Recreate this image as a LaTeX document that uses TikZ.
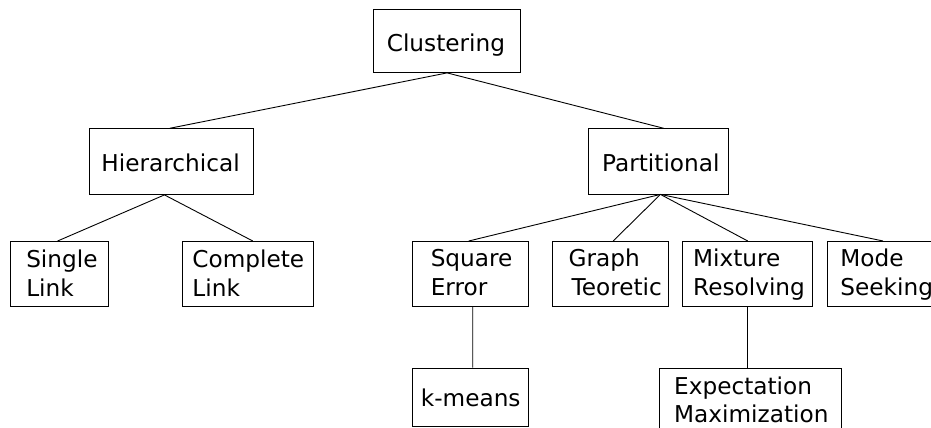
\documentclass[tikz,border=0pt]{standalone}
\usepackage{fontspec}
\newfontfamily\dejavu{DejaVu Sans}
% box text: DejaVu Sans, words never split across lines
\newcommand\taxfont{\dejavu\fontsize{23.2}{28.4}\selectfont
  \hyphenpenalty=10000\relax\exhyphenpenalty=10000\relax}
\begin{document}
\begin{tikzpicture}[x=1pt, y=-1pt,
  % a box: top-left corner at the node position, text set from the first baseline
  taxbox/.style={draw, line width=0.9pt, anchor=north west, inner ysep=0pt,
    align=left, font=\taxfont},
  link/.style={line width=0.9pt}]
\useasboundingbox (0,0) rectangle (931,428);
\clip (0,0) rectangle (931,428);

% top level
\node[taxbox, inner xsep=13.1pt, text width=120.5pt, text height=41.4pt, text depth=21.3pt]
  (clust) at (373.3,9.3) {Clustering};

% second level
\node[taxbox, inner xsep=11.7pt, text width=140pt, text height=42.4pt, text depth=23.3pt]
  (hier) at (89.3,128.3) {Hierarchical};
\node[taxbox, inner xsep=13.4pt, text width=113.2pt, text height=42.4pt, text depth=22.8pt]
  (part) at (588.3,128.3) {Partitional};

% third level
\node[taxbox, inner xsep=15.8pt, text width=66.7pt, text height=26.3pt, text depth=38.7pt]
  (single) at (10,241) {Single\\Link};
\node[taxbox, inner xsep=9.7pt, text width=111.6pt, text height=26.3pt, text depth=38.7pt]
  (complete) at (182.3,241) {Complete\\Link};
\node[taxbox, inner xsep=18.6pt, text width=79.4pt, text height=25.2pt, text depth=39.8pt]
  (square) at (411.7,241) {Square\\Error};
\node[taxbox, inner xsep=16.4pt, text width=83.8pt, text height=25.2pt, text depth=39.8pt]
  (graph) at (551.7,241) {Graph\\\hspace*{3pt}Teoretic};
\node[taxbox, inner xsep=10.4pt, text width=109.2pt, text height=25.2pt, text depth=39.8pt]
  (mixture) at (682.3,241) {Mixture\\Resolving};
\node[taxbox, inner xsep=12.7pt, text width=85.3pt, text height=25.2pt, text depth=39.8pt]
  (mode) at (827.3,241) {Mode\\Seeking};

% fourth level
\node[taxbox, inner xsep=8.7pt, text width=99.2pt, text height=38.5pt, text depth=20pt]
  (kmeans) at (411.7,367.5) {k-means};
\node[taxbox, inner xsep=14.7pt, text width=152.6pt, text height=26.5pt, text depth=46pt]
  (expect) at (659,367.5) {Expectation\\Maximization};

% connectors
\draw[link] (clust.south) -- ([xshift=-1.7pt]hier.north);
\draw[link] (clust.south) -- ([xshift=5pt]part.north);

\draw[link] ([xshift=-7pt]hier.south) -- ([xshift=-2pt]single.north);
\draw[link] ([xshift=-7pt]hier.south) -- ([xshift=4.5pt]complete.north);

\draw[link] ([xshift=1.7pt]part.south) -- ([xshift=-1.7pt]square.north);
\draw[link] ([xshift=1.7pt]part.south) -- ([xshift=2.7pt]graph.north);
\draw[link] ([xshift=1.7pt]part.south) -- (mixture.north);
\draw[link] ([xshift=1.7pt]part.south) -- (mode.north);

\draw[link] ([xshift=2.3pt]square.south) -- ([xshift=2.3pt]kmeans.north);
\draw[link] (mixture.south) -- (mixture.south |- expect.north);
\end{tikzpicture}
\end{document}
